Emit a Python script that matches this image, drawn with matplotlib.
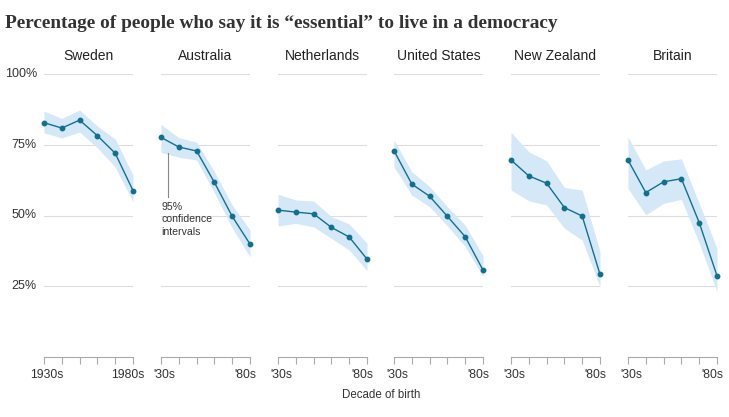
import matplotlib
matplotlib.use("Agg")
import matplotlib.pyplot as plt
from matplotlib.transforms import ScaledTranslation

countries = ["Sweden", "Australia", "Netherlands", "United States", "New Zealand", "Britain"]
decades = [1930, 1940, 1950, 1960, 1970, 1980]

# percent saying "essential", by decade of birth
values = {
    "Sweden":        [82.8, 80.9, 83.7, 78.2, 72.0, 58.8],
    "Australia":     [77.6, 74.2, 72.8, 61.7, 49.7, 39.9],
    "Netherlands":   [51.9, 51.2, 50.6, 45.8, 42.4, 34.6],
    "United States": [72.9, 61.1, 56.8, 49.7, 42.5, 30.7],
    "New Zealand":   [69.6, 64.0, 61.4, 52.8, 49.8, 29.2],
    "Britain":       [69.6, 58.1, 61.9, 63.0, 47.5, 28.7],
}
# 95% confidence interval bounds
upper = {
    "Sweden":        [86.9, 84.3, 87.3, 81.6, 77.0, 64.3],
    "Australia":     [82.2, 77.5, 75.9, 65.5, 53.7, 44.9],
    "Netherlands":   [57.5, 55.5, 55.1, 49.6, 47.0, 40.2],
    "United States": [76.7, 65.5, 60.2, 53.1, 46.6, 35.8],
    "New Zealand":   [79.4, 72.5, 69.3, 59.9, 59.0, 37.2],
    "Britain":       [77.8, 66.1, 69.3, 70.0, 54.3, 38.4],
}
lower = {
    "Sweden":        [79.2, 77.4, 79.5, 73.9, 67.1, 54.8],
    "Australia":     [72.3, 70.6, 69.6, 58.0, 45.6, 35.4],
    "Netherlands":   [46.3, 47.2, 46.0, 41.9, 37.8, 30.5],
    "United States": [67.2, 57.2, 53.1, 46.3, 39.0, 28.4],
    "New Zealand":   [59.0, 55.2, 53.7, 45.5, 41.3, 24.8],
    "Britain":       [59.6, 50.2, 54.3, 55.7, 40.2, 23.0],
}
grid_vals = [25, 50, 75, 100]

LINE = "#12708e"
BAND = "#d5e8f8"
SANS = ["Liberation Sans", "DejaVu Sans"]

W, H = 729, 417
fig = plt.figure(figsize=(W / 100, H / 100), dpi=100)

lefts = [44, 161, 278, 394, 511, 628]
pw = 89
top_px, bot_px = 74, 357

for i, c in enumerate(countries):
    ax = fig.add_axes([lefts[i] / W, 1 - bot_px / H, pw / W, (bot_px - top_px) / H])
    x = list(range(len(decades)))
    ax.set_xlim(0, 5)
    ax.set_ylim(0, 100)
    for g in grid_vals:
        ax.axhline(g, color="#dddddd", lw=0.8, zorder=0)
    ax.fill_between(x, lower[c], upper[c], color=BAND, lw=0, zorder=1, clip_on=False)
    ax.plot(x, values[c], color=LINE, lw=1.0, marker="o", ms=3.2, zorder=3, clip_on=False)

    for s in ["top", "right", "left"]:
        ax.spines[s].set_visible(False)
    ax.spines["bottom"].set_color("#aaaaaa")
    ax.spines["bottom"].set_linewidth(0.8)
    ax.set_xticks(x)
    if i == 0:
        labs = [str(decades[0]) + "s", "", "", "", "", str(decades[-1]) + "s"]
    else:
        labs = ["'" + str(decades[0])[2:] + "s", "", "", "", "", "'" + str(decades[-1])[2:] + "s"]
    ax.set_xticklabels(labs, fontsize=8.8, family=SANS, color="#333333")
    ax.tick_params(axis="x", direction="out", length=5, width=0.8, color="#aaaaaa", pad=3.5)
    # nudge end labels inward a little
    tl = ax.get_xticklabels()
    tl[0].set_transform(tl[0].get_transform() + ScaledTranslation(3 / 100, 0, fig.dpi_scale_trans))
    tl[-1].set_transform(tl[-1].get_transform() + ScaledTranslation(-5 / 100, 0, fig.dpi_scale_trans))
    ax.set_yticks([])
    if i == 0:
        for g in grid_vals:
            ax.text(-0.08, g, str(g) + "%", transform=ax.get_yaxis_transform(),
                    ha="right", va="center", fontsize=9, family=SANS, color="#333333")
    ax.set_title(c, fontsize=10, family=SANS, color="#222222", pad=10)

    if c == "Australia":
        ax.plot([0.4, 0.4], [56.5, 72], color="#888888", lw=0.8, zorder=4)
        ax.text(0.0, 54.8, "95%\nconfidence\nintervals", ha="left", va="top",
                fontsize=7.6, family=SANS, color="#333333", linespacing=1.3)

fig.text(5 / W, 1 - 28 / H, "Percentage of people who say it is \u201cessential\u201d to live in a democracy",
         ha="left", va="baseline", fontsize=13.9, fontweight="bold",
         family=["Liberation Serif", "DejaVu Serif"], color="#333333")
fig.text(381 / W, 1 - 395 / H, "Decade of birth", ha="center", va="center",
         fontsize=8.3, family=SANS, color="#333333")

fig.savefig("out.png", dpi=100)
